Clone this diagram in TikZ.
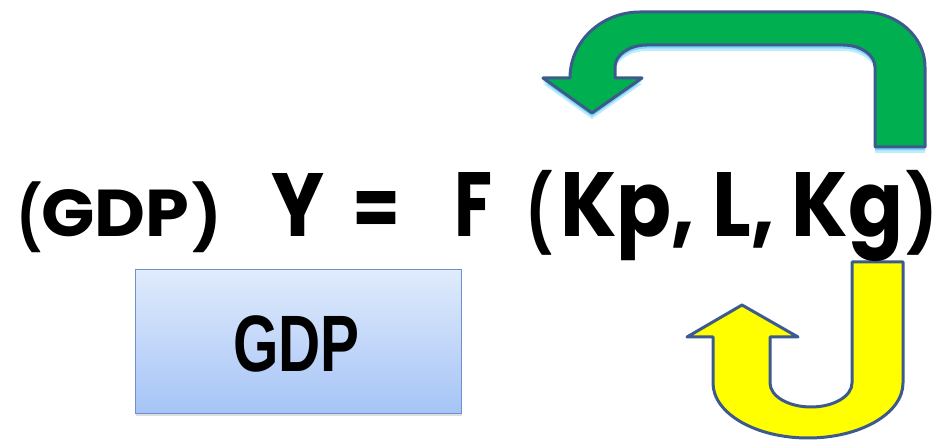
\documentclass[tikz,border=0pt]{standalone}
\usepackage{fontspec}
\setmainfont{Liberation Sans}
\newfontfamily\gothicfont{Poppins}
\usetikzlibrary{shadows}
\newcommand\gothicbf{\gothicfont\bfseries}
\definecolor{arrowline}{RGB}{60,90,140}
\definecolor{arrowgreen}{RGB}{0,176,80}
\definecolor{arrowyellow}{RGB}{255,255,0}
\definecolor{glowblue}{RGB}{0,176,240}
\definecolor{boxtop}{RGB}{224,235,252}
\definecolor{boxbot}{RGB}{165,196,246}
\definecolor{boxline}{RGB}{110,145,205}
\tikzset{
  greenshape/.style={insert path={
    (925,294) -- (925,374) arc[start angle=0,end angle=90,x radius=62,y radius=55]
    -- (640,429) arc[start angle=90,end angle=180,x radius=70,y radius=66]
    -- (543,363) -- (592,328) -- (642,363) -- (615,363) -- (615,374)
    arc[start angle=180,end angle=90,x radius=32,y radius=22]
    -- (843,396) arc[start angle=90,end angle=0,x radius=32,y radius=22]
    -- (875,294) -- cycle}},
  yellowshape/.style={insert path={
    (903,179) -- (903,58) arc[start angle=0,end angle=-180,x radius=95,y radius=55]
    -- (713,104) -- (687,104) -- (742,136) -- (798,104) -- (770,104) -- (770,58)
    arc[start angle=180,end angle=360,x radius=41,y radius=24]
    -- (852,179) -- cycle}},
  arrowborder/.style={draw=arrowline,line width=3pt,line join=round},
  eqtext/.style={inner sep=0pt,anchor=base west,font=\gothicbf\fontsize{80}{84}\selectfont},
  paren/.style={inner sep=0pt,anchor=north west,font=\gothicbf\fontsize{80}{84}\selectfont},
  gdpbox/.style={draw=boxline,line width=1pt,top color=boxtop,bottom color=boxbot,
    minimum width=326pt,minimum height=144pt,inner sep=0pt,
    drop shadow={shadow xshift=1pt,shadow yshift=-2pt,opacity=0.25}},
}
\begin{document}
\begin{tikzpicture}[x=1pt,y=1pt]
\useasboundingbox (0,0) rectangle (951,441);
% glow of the green arrow
\fill[glowblue,opacity=0.25,yshift=-6pt,greenshape];
\fill[glowblue,opacity=0.35,yshift=-3.5pt,greenshape];
\path[arrowborder,fill=arrowgreen,greenshape];
\path[arrowborder,fill=arrowyellow,yellowshape];
% equation
\node[paren] (gdpl) at (17,259) {\resizebox*{24pt}{71pt}{(}};
\node[eqtext] (gdp) at (41,204) {\resizebox{148pt}{47pt}{GDP}};
\node[paren] (gdpr) at (192,259) {\resizebox*{29pt}{71pt}{)}};
\node[eqtext] (y) at (271,204) {\resizebox{53pt}{63pt}{Y}};
\node[eqtext] (eq) at (352,204) {\resizebox{48pt}{45pt}{=}};
\node[eqtext] (f) at (454,204) {\resizebox{38pt}{64pt}{F}};
\node[paren] (argl) at (526,271) {\resizebox*{26pt}{85pt}{(}};
\node[eqtext] (args) at (560,204) {\resizebox{343pt}{64pt}{Kp, L, Kg}};
\node[paren] (argr) at (906,271) {\resizebox*{31pt}{85pt}{)}};
% box
\node[gdpbox] (box) at (298,99) {};
\node[inner sep=0pt,anchor=base,font=\bfseries\fontsize{80}{84}\selectfont] (boxlabel) at (296.5,69) {\scalebox{0.73}[1]{GDP}};
\end{tikzpicture}
\end{document}
